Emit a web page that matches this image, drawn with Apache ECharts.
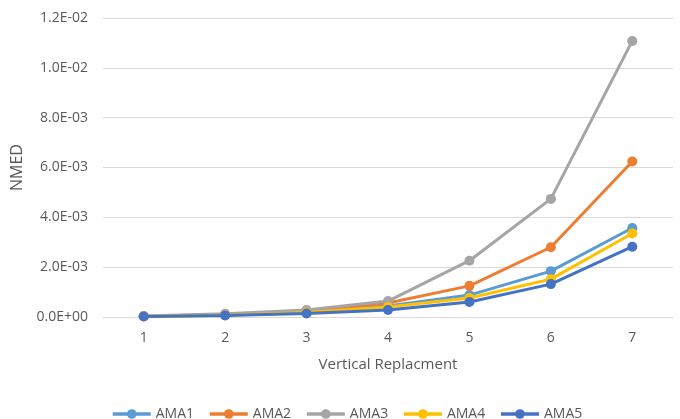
<!DOCTYPE html>
<html>
<head>
<meta charset="utf-8">
<script src="https://cdn.jsdelivr.net/npm/echarts@6/dist/echarts.min.js"></script>
<style>
  html, body { margin: 0; padding: 0; background: #fff; }
  #chart { width: 680px; height: 419px; }
</style>
</head>
<body>
<div id="chart"></div>
<script>
// x categories
var categories = ['1', '2', '3', '4', '5', '6', '7'];
// NMED values
var ama1 = [0.00003, 0.00008, 0.00020, 0.00044, 0.00088, 0.00184, 0.00357];
var ama2 = [0.00003, 0.00010, 0.00024, 0.00056, 0.00125, 0.00280, 0.00624];
var ama3 = [0.00004, 0.00013, 0.00028, 0.00064, 0.00226, 0.00474, 0.01108];
var ama4 = [0.00003, 0.00007, 0.00018, 0.00040, 0.00076, 0.00152, 0.00335];
var ama5 = [0.00002, 0.00006, 0.00014, 0.00028, 0.00060, 0.00132, 0.00282];
var seriesNames = ['AMA1', 'AMA2', 'AMA3', 'AMA4', 'AMA5'];
var seriesColors = ['#5B9BD5', '#ED7D31', '#A5A5A5', '#FFC000', '#4472C4'];

// 1.2E-02 style labels
function sci(v) {
  var s = Number(v).toExponential(1).toUpperCase();
  var parts = s.split('E');
  var exp = parseInt(parts[1], 10);
  var sign = exp < 0 ? '-' : '+';
  var e = Math.abs(exp);
  return parts[0] + 'E' + sign + (e < 10 ? '0' + e : e);
}

var font = 'Open Sans, Liberation Sans, sans-serif';
var textColor = '#595959';

var myChart = echarts.init(document.getElementById('chart'));
var allData = [ama1, ama2, ama3, ama4, ama5];
var series = [];
for (var i = 0; i < allData.length; i++) {
  series.push({
    name: seriesNames[i],
    type: 'line',
    data: allData[i],
    symbol: 'circle',
    symbolSize: 10,
    lineStyle: { width: 3, color: seriesColors[i] },
    itemStyle: { color: seriesColors[i] },
    z: 2 + i
  });
}

myChart.setOption({
  animation: false,
  backgroundColor: '#fff',
  textStyle: { fontFamily: font },
  grid: {
    top: 18,
    left: 103,
    right: 7,
    bottom: 102
  },
  legend: {
    data: seriesNames,
    left: 106,
    top: 402,
    itemWidth: 38,
    itemHeight: 12,
    itemGap: 14,
    lineStyle: { width: 3.5 },
    textStyle: { color: textColor, fontSize: 14, fontFamily: font }
  },
  xAxis: {
    type: 'category',
    data: categories,
    boundaryGap: true,
    name: 'Vertical Replacment',
    nameLocation: 'middle',
    nameGap: 40,
    nameTextStyle: { color: textColor, fontSize: 15, fontFamily: font },
    axisLine: { lineStyle: { color: '#d9d9d9' } },
    axisTick: { show: false },
    axisLabel: { color: textColor, fontSize: 14, margin: 14 }
  },
  yAxis: {
    type: 'value',
    min: 0,
    max: 0.012,
    interval: 0.002,
    name: 'NMED',
    nameLocation: 'middle',
    nameGap: 76,
    nameTextStyle: { color: textColor, fontSize: 16, fontFamily: font },
    axisLine: { show: false },
    axisTick: { show: false },
    axisLabel: { color: textColor, fontSize: 14, margin: 15, formatter: sci },
    splitLine: { lineStyle: { color: '#d9d9d9' } }
  },
  series: series
});
</script>
</body>
</html>
